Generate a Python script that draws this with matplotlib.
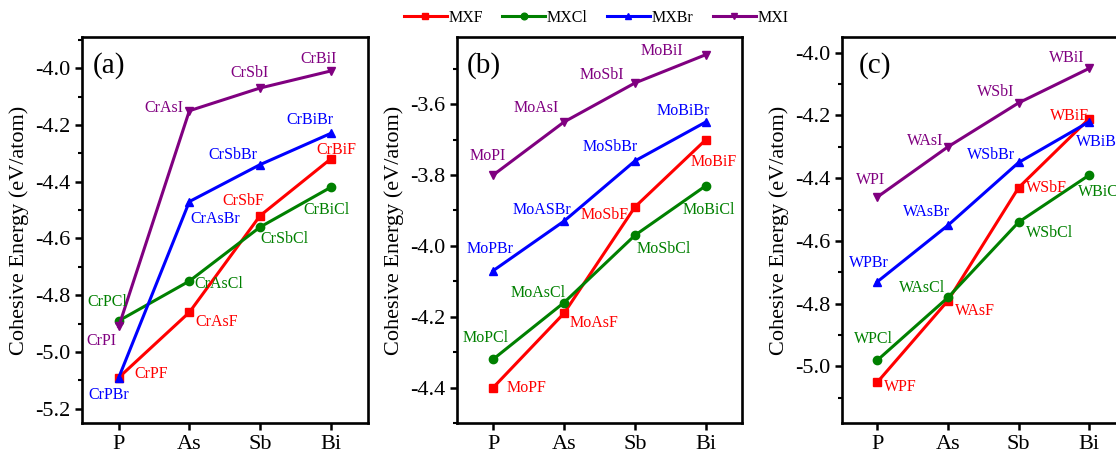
import numpy as np
import matplotlib
matplotlib.use('Agg')
import matplotlib.pyplot as plt
from matplotlib.ticker import MultipleLocator

plt.rcParams['font.family'] = ['Liberation Serif', 'DejaVu Serif']
plt.rcParams['mathtext.fontset'] = 'stix'

pnictogens = ['P', 'As', 'Sb', 'Bi']
series_names = ['MXF', 'MXCl', 'MXBr', 'MXI']
colors = ['#ff0000', '#008000', '#0000ff', '#800080']
markers = ['s', 'o', '^', 'v']

# panel (a): Cr
cr_f = [-5.09, -4.86, -4.52, -4.32]
cr_cl = [-4.89, -4.75, -4.56, -4.42]
cr_br = [-5.09, -4.47, -4.34, -4.23]
cr_i = [-4.91, -4.15, -4.07, -4.01]
# panel (b): Mo
mo_f = [-4.40, -4.19, -3.89, -3.70]
mo_cl = [-4.32, -4.16, -3.97, -3.83]
mo_br = [-4.07, -3.93, -3.76, -3.65]
mo_i = [-3.80, -3.65, -3.54, -3.46]
# panel (c): W
w_f = [-5.05, -4.79, -4.43, -4.21]
w_cl = [-4.98, -4.78, -4.54, -4.39]
w_br = [-4.73, -4.55, -4.35, -4.22]
w_i = [-4.46, -4.30, -4.16, -4.05]

cr_labels = [['CrPF', 'CrAsF', 'CrSbF', 'CrBiF'],
             ['CrPCl', 'CrAsCl', 'CrSbCl', 'CrBiCl'],
             ['CrPBr', 'CrAsBr', 'CrSbBr', 'CrBiBr'],
             ['CrPI', 'CrAsI', 'CrSbI', 'CrBiI']]
mo_labels = [['MoPF', 'MoAsF', 'MoSbF', 'MoBiF'],
             ['MoPCl', 'MoAsCl', 'MoSbCl', 'MoBiCl'],
             ['MoPBr', 'MoASBr', 'MoSbBr', 'MoBiBr'],
             ['MoPI', 'MoAsI', 'MoSbI', 'MoBiI']]
w_labels = [['WPF', 'WAsF', 'WSbF', 'WBiF'],
            ['WPCl', 'WAsCl', 'WSbCl', 'WBiCl'],
            ['WPBr', 'WAsBr', 'WSbBr', 'WBiBr'],
            ['WPI', 'WAsI', 'WSbI', 'WBiI']]

# label placement: (dx px, dy px, ha)
cr_offsets = [[(16, 4, 'left'), (6, -10, 'left'), (-17, 15, 'center'), (6, 9, 'center')],
              [(-11, 19, 'center'), (5, -3, 'left'), (0, -12, 'left'), (-4, -23, 'center')],
              [(-10, -17, 'center'), (26, -17, 'center'), (-27, 10, 'center'), (-21, 13, 'center')],
              [(-17, -15, 'center'), (-6, 3, 'right'), (-11, 15, 'center'), (-12, 12, 'center')]]
mo_offsets = [[(13, 0, 'left'), (6, -10, 'left'), (-30, -8, 'center'), (8, -22, 'center')],
              [(-8, 21, 'center'), (-26, 10, 'center'), (2, -14, 'left'), (3, -24, 'center')],
              [(-3, 22, 'center'), (-22, 11, 'center'), (-25, 14, 'center'), (-23, 11, 'center')],
              [(-5, 19, 'center'), (-28, 14, 'center'), (-33, 8, 'center'), (-44, 4, 'center')]]
w_offsets = [[(7, -5, 'left'), (7, -10, 'left'), (7, 0, 'left'), (-20, 3, 'center')],
             [(-4, 21, 'center'), (-26, 9, 'center'), (7, -11, 'left'), (-11, -17, 'left')],
             [(-8, 19, 'center'), (-21, 13, 'center'), (-28, 7, 'center'), (-13, -20, 'left')],
             [(-7, 17, 'center'), (-23, 6, 'center'), (-23, 11, 'center'), (-23, 10, 'center')]]

panels = [
    ([cr_f, cr_cl, cr_br, cr_i], cr_labels, cr_offsets, '(a)',
     [0.0735, 0.0621, 0.2563, 0.856], (-5.25, -3.89), (-0.52, 3.53), 0.038, -4.0),
    ([mo_f, mo_cl, mo_br, mo_i], mo_labels, mo_offsets, '(b)',
     [0.4095, 0.0621, 0.2554, 0.856], (-4.50, -3.41), (-0.51, 3.51), 0.035, -3.6),
    ([w_f, w_cl, w_br, w_i], w_labels, w_offsets, '(c)',
     [0.7545, 0.0621, 0.2545, 0.856], (-5.18, -3.95), (-0.50, 3.52), 0.06, -4.0),
]

fig = plt.figure(figsize=(11.16, 4.51), dpi=100)
x = np.arange(len(pnictogens))
handles = []
for data, labels, offsets, tag, pos, ylim, xlim, tagx, ytop in panels:
    ax = fig.add_axes(pos)
    handles = []
    for k in range(4):
        h, = ax.plot(x, data[k], color=colors[k], marker=markers[k], lw=2.2,
                     ms=6, label=series_names[k])
        handles.append(h)
        for j in range(4):
            dx, dy, ha = offsets[k][j]
            ax.annotate(labels[k][j], (x[j], data[k][j]), xytext=(dx, dy),
                        textcoords='offset pixels', ha=ha, va='center',
                        color=colors[k], fontsize=11.5)
    ax.set_xlim(xlim)
    ax.set_ylim(ylim)
    ax.set_xticks(x)
    ax.set_xticklabels(pnictogens)
    ax.yaxis.set_major_locator(MultipleLocator(0.2))
    ax.yaxis.set_minor_locator(MultipleLocator(0.1))
    ax.yaxis.set_major_formatter(plt.FuncFormatter(lambda v, p: '%.1f' % v))
    ax.tick_params(axis='both', which='major', direction='out', length=5,
                   width=1.8, labelsize=16)
    ax.tick_params(axis='y', which='minor', direction='out', length=3, width=1.5)
    for s in ax.spines.values():
        s.set_linewidth(1.9)
    ax.set_ylabel('Cohesive Energy (eV/atom)', fontsize=16, labelpad=4)
    ax.text(tagx, 0.927, tag, transform=ax.transAxes, fontsize=21,
            ha='left', va='center')

fig.legend(handles=handles, loc='center', bbox_to_anchor=(0.534, 0.96), ncol=4,
           frameon=False, fontsize=11.5, handlelength=2.7, handletextpad=0.1,
           columnspacing=1.2, markerscale=0.8)

fig.savefig('out.png', dpi=100)
